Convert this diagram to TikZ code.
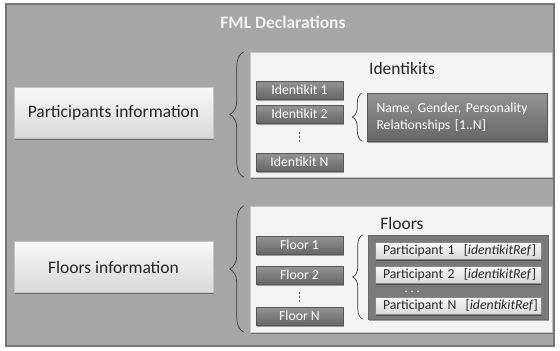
\documentclass[tikz,border=0pt]{standalone}
\usepackage{fontspec}
\setmainfont{Carlito}
\usetikzlibrary{decorations.pathreplacing,shadows}
\definecolor{framebg}{HTML}{A6A6A6}
\definecolor{frameline}{HTML}{767676}
\definecolor{panelbg}{HTML}{F3F3F3}
\definecolor{panelline}{HTML}{C4C4C4}
\definecolor{darktop}{HTML}{949494}
\definecolor{darkbot}{HTML}{666666}
\definecolor{lighttop}{HTML}{F8F8F8}
\definecolor{lightbot}{HTML}{D8D8D8}
\definecolor{contbg}{HTML}{7A7A7A}
\definecolor{bracecol}{HTML}{3C3C3C}
\definecolor{textcol}{HTML}{262626}
\begin{document}
\begin{tikzpicture}[x=1pt,y=-1pt,
  bigfont/.style={font=\fontsize{17.5}{20}\selectfont},
  smallfont/.style={font=\fontsize{13.7}{17}\selectfont},
  shad/.style={drop shadow={shadow xshift=0.8pt,shadow yshift=-1.5pt,opacity=0.35,fill=black}},
  framebox/.style={draw=frameline,line width=1.5pt,fill=framebg,minimum width=548pt,minimum height=342pt,inner sep=0pt},
  infobox/.style={draw=panelline,top color=lighttop,bottom color=lightbot,minimum width=199pt,minimum height=51pt,inner sep=0pt,bigfont,text=textcol,shad},
  panelbox/.style={draw=panelline,fill=panelbg,minimum width=302pt,inner sep=0pt,shad},
  darkbox/.style={draw=darkbot!85!black,top color=darktop,bottom color=darkbot,minimum width=87pt,minimum height=18pt,inner sep=0pt,smallfont,text=white,shad},
  contbox/.style={draw=contbg!85!black,fill=contbg,shad},
  rowbox/.style={draw=panelline!70!black,top color=lighttop,bottom color=lightbot,text width=166pt,inner xsep=0pt,inner ysep=0pt,minimum height=17pt,align=left,smallfont,text=textcol,shad},
  dotdark/.style={fill=black!65},
  dotlight/.style={fill=white!88!black},
  curly/.style={draw=bracecol,line width=0.7pt,decorate,decoration={brace,amplitude=#1}}
]
\useasboundingbox (0,0) rectangle (560,351);
\node[framebox] (frame) at (280,175) {};
\node[text=white!95!black,font=\fontsize{17.5}{20}\selectfont\bfseries] (title) at (283,22) {FML Declarations};

% left info boxes
\node[infobox] (pinfo) at (113.5,113) {Participants information};
\node[infobox] (finfo) at (113.5,267) {Floors information};

% panels
\node[panelbox,minimum height=125pt] (idpanel) at (401,114.5) {};
\node[panelbox,minimum height=126pt] (flpanel) at (401,269) {};
\node[bigfont,text=textcol,inner sep=0pt] (idtitle) at (402,68) {Identikits};
\node[bigfont,text=textcol,inner sep=0pt] (fltitle) at (402,223) {Floors};

% identikits
\node[darkbox] (id1) at (299.5,90) {Identikit 1};
\node[darkbox] (id2) at (299.5,114) {Identikit 2};
\foreach \yy in {133,137,141} \fill[dotdark] (299.5,\yy) circle (0.9pt);
\node[darkbox] (idN) at (299.5,162) {Identikit N};
\node[darkbox,minimum width=179pt,minimum height=48pt,text width=162pt,inner xsep=9pt,align=left,font=\fontsize{13.7}{17}\selectfont] (attrs) at (457.5,117) {Name, Gender, Personality\\Relationships [1..N]};

% floors
\node[darkbox] (fl1) at (299.5,245) {Floor 1};
\node[darkbox] (fl2) at (299.5,275) {Floor 2};
\foreach \yy in {293,297,301} \fill[dotdark] (299.5,\yy) circle (0.9pt);
\node[darkbox] (flN) at (299.5,316) {Floor N};
\node[contbox,minimum width=180pt,minimum height=84pt,inner sep=0pt] (pcont) at (458,277) {};
\node[rowbox] (p1) at (458,250.5) {\hspace*{8pt}\mbox{Participant 1\ \ [\textit{identikitRef}]}};
\node[rowbox] (p2) at (458,274.5) {\hspace*{8pt}\mbox{Participant 2\ \ [\textit{identikitRef}]}};
\foreach \xx in {406,412,418} \fill[dotlight] (\xx,291.5) circle (1pt);
\node[rowbox] (pN) at (458,305.5) {\hspace*{8pt}\mbox{Participant N\ \ [\textit{identikitRef}]}};

% braces
\draw[curly=14] ([xshift=-6pt]idpanel.south west) -- ([xshift=-6pt]idpanel.north west);
\draw[curly=14] ([xshift=-6pt]flpanel.south west) -- ([xshift=-6pt]flpanel.north west);
\draw[curly=10] ([xshift=-5pt]attrs.south west) -- ([xshift=-5pt]attrs.north west);
\draw[curly=10] ([xshift=-5pt]pcont.south west) -- ([xshift=-5pt]pcont.north west);
\end{tikzpicture}
\end{document}
